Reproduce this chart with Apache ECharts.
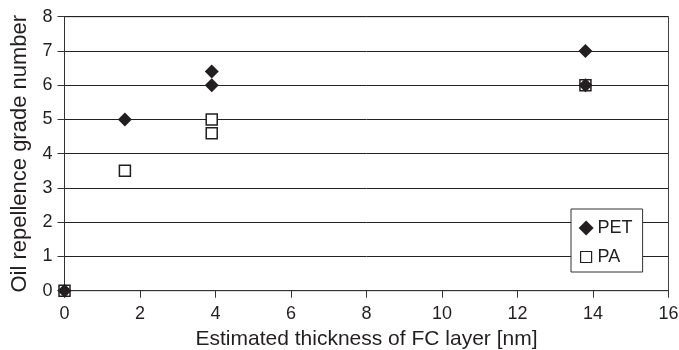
<!DOCTYPE html>
<html>
<head>
<meta charset="utf-8">
<script src="https://cdn.jsdelivr.net/npm/echarts@6/dist/echarts.min.js"></script>
<style>
  html, body { margin: 0; padding: 0; background: #fff; }
  #chart { width: 679px; height: 350px; }
</style>
</head>
<body>
<div id="chart"></div>
<script>
// data
var petX = [0, 1.6, 3.9, 3.9, 13.8, 13.8];
var petY = [0, 5, 6.4, 6, 7, 6];
var paX = [0, 1.6, 3.9, 3.9, 13.8];
var paY = [0, 3.5, 5, 4.6, 6];

var xTicks = [0, 2, 4, 6, 8, 10, 12, 14, 16];
var yTicks = [0, 1, 2, 3, 4, 5, 6, 7, 8];

function pairs(xs, ys) {
    var out = [];
    for (var i = 0; i < xs.length; i++) out.push([xs[i], ys[i]]);
    return out;
}

var font = '"Liberation Sans", Arial, sans-serif';
var ink = '#231f20';

var chart = echarts.init(document.getElementById('chart'));
chart.setOption({
    animation: false,
    textStyle: { fontFamily: font },
    grid: {
        left: 64.5, right: 10.5, top: 16.7, bottom: 59.3,
        containLabel: false, outerBoundsMode: 'none',
        show: true, borderColor: '#444', borderWidth: 1, backgroundColor: 'transparent'
    },
    legend: {
        orient: 'vertical',
        left: 571, top: 209,
        padding: [10, 10, 6, 7],
        itemGap: 11,
        itemWidth: 15, itemHeight: 15,
        backgroundColor: '#fff',
        borderColor: '#333', borderWidth: 1,
        textStyle: { fontSize: 18, color: ink, fontFamily: font, padding: [0, 0, 0, -1] },
        data: [
            { name: 'PET', icon: 'diamond', itemStyle: { color: ink } },
            {
                name: 'PA',
                // small square with empty corners so it stays smaller than the diamond
                icon: 'path://M0,0L0,0M2,2L13,2L13,13L2,13ZM15,15L15,15',
                itemStyle: { color: '#fff', borderColor: ink, borderWidth: 1.2 }
            }
        ]
    },
    xAxis: {
        type: 'value', min: xTicks[0], max: xTicks[xTicks.length - 1], interval: 2,
        name: 'Estimated thickness of FC layer [nm]',
        nameLocation: 'middle', nameGap: 38,
        nameTextStyle: { fontSize: 21, color: ink },
        axisLine: { show: true, lineStyle: { color: '#333', width: 1 } },
        axisTick: { show: true, inside: false, length: 7, lineStyle: { color: '#333', width: 1 } },
        axisLabel: { fontSize: 18, color: ink, margin: 14 },
        splitLine: { show: false }
    },
    yAxis: {
        type: 'value', min: yTicks[0], max: yTicks[yTicks.length - 1], interval: 1,
        name: 'Oil repellence grade number',
        nameLocation: 'middle', nameGap: 34,
        nameTextStyle: { fontSize: 22, color: ink },
        axisLine: { show: true, lineStyle: { color: '#333', width: 1 } },
        axisTick: { show: true, inside: false, length: 7, lineStyle: { color: '#333', width: 1 } },
        axisLabel: { fontSize: 18, color: ink, margin: 12 },
        splitLine: { show: true, lineStyle: { color: '#222', width: 1 } }
    },
    series: [
        {
            name: 'PA', type: 'scatter', z: 2,
            symbol: 'rect', symbolSize: 11,
            itemStyle: { color: '#fff', borderColor: ink, borderWidth: 1.5, opacity: 1 },
            data: pairs(paX, paY)
        },
        {
            name: 'PET', type: 'scatter', z: 3,
            symbol: 'diamond', symbolSize: 14,
            itemStyle: { color: ink, opacity: 1 },
            data: pairs(petX, petY)
        }
    ]
});
</script>
</body>
</html>
